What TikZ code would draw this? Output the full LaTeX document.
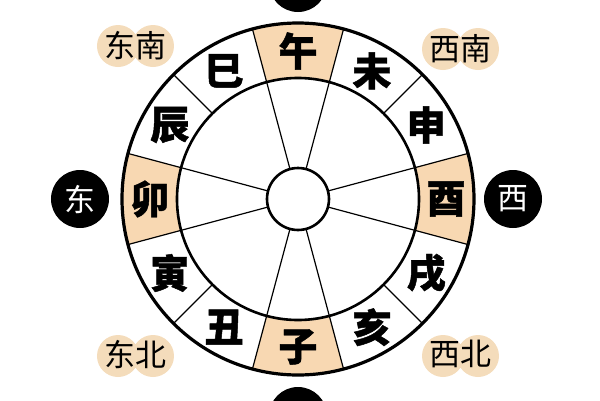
\documentclass[tikz,border=0pt]{standalone}
\usepackage{fontspec}
\newfontfamily\cjk[BoldFeatures={FakeBold=1.2}]{Noto Sans CJK SC}
\definecolor{sectortan}{HTML}{F8D8B2}
\definecolor{blobtan}{HTML}{F4DCBB}

\tikzset{
  zhi/.style={font=\cjk\bfseries\fontsize{39}{39}\selectfont},
  fang/.style={circle,fill=black,minimum size=58pt,inner sep=0pt,text=white,font=\cjk\fontsize{31}{31}\selectfont},
  yu/.style={font=\cjk\fontsize{31}{31}\selectfont}
}

\begin{document}
\begin{tikzpicture}[x=1pt,y=1pt]
  \useasboundingbox (-298,-201) rectangle (302,199);
  \clip (-298,-201) rectangle (302,199);
  % shaded sectors
  \foreach \a in {0,90,180,270}
    \fill[sectortan] (\a-15:121) arc (\a-15:\a+15:121) -- (\a+15:176) arc (\a+15:\a-15:176) -- cycle;
  % spokes
  \foreach \a in {15,45,...,345}
    \draw[line width=1.2pt] (\a:121) -- (\a:176);
  \foreach \a in {15,75,105,165,195,255,285,345}
    \draw[line width=1.2pt] (\a:31) -- (\a:121);
  % rings
  \draw[line width=3.2pt] (0,0) circle (176);
  \draw[line width=2.6pt] (0,0) circle (121);
  \draw[line width=2.6pt,fill=white] (0,0) circle (31);
  % branches
  \node[zhi] (wu) at (90:148) {午};
  \node[zhi] (wei) at (60:148) {未};
  \node[zhi] (shen) at (30:148) {申};
  \node[zhi] (you) at (0:148) {酉};
  \node[zhi] (xu) at (-30:148) {戌};
  \node[zhi] (hai) at (-60:148) {亥};
  \node[zhi] (zi) at (-90:148) {子};
  \node[zhi] (chou) at (-120:148) {丑};
  \node[zhi] (yin) at (-150:148) {寅};
  \node[zhi] (mao) at (180:148) {卯};
  \node[zhi] (chen) at (150:148) {辰};
  \node[zhi] (si) at (120:148) {巳};
  % directions
  \node[fang] (dong) at (-218,0) {东};
  \node[fang] (xi) at (215,0) {西};
  \node[fang] (nan) at (0,216) {南};
  \node[fang] (bei) at (0,-217) {北};
  % corners
  \fill[blobtan] (-180,153) circle (21) (-145,153) circle (21);
  \node[yu] (dongnan) at (-162,153) {东南};
  \fill[blobtan] (145,150) circle (21) (180,150) circle (21);
  \node[yu] (xinan) at (162,150) {西南};
  \fill[blobtan] (-180,-157) circle (21) (-145,-157) circle (21);
  \node[yu] (dongbei) at (-162,-155) {东北};
  \fill[blobtan] (145,-157) circle (21) (180,-157) circle (21);
  \node[yu] (xibei) at (162,-155) {西北};
\end{tikzpicture}
\end{document}
